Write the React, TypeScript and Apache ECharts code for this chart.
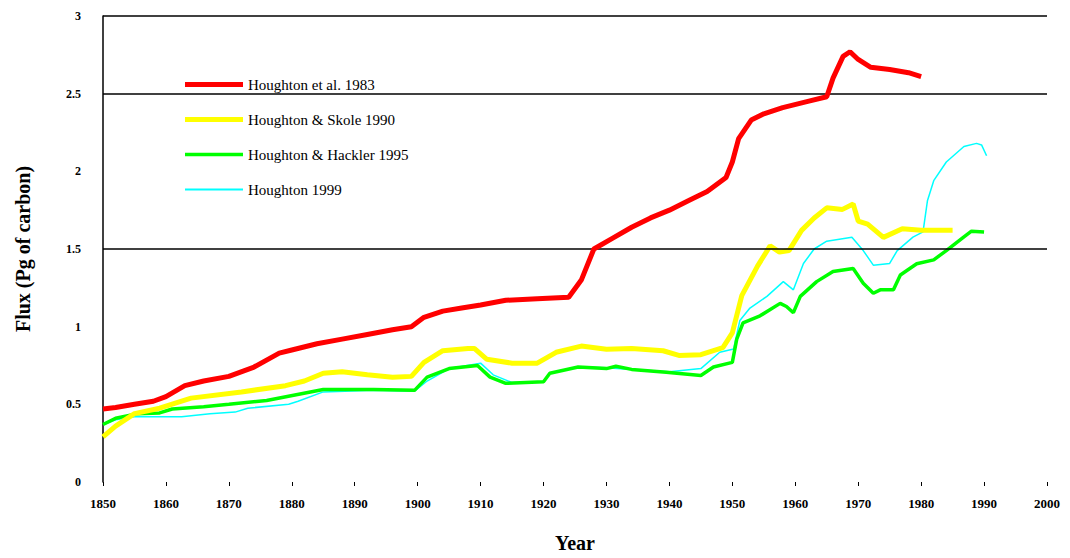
import React, { useEffect, useRef } from "react";
import * as echarts from "echarts";

const redYears = [1850, 1852, 1855, 1858, 1860, 1863, 1866, 1870, 1874, 1878, 1880, 1884, 1888, 1892, 1896, 1899, 1901, 1904, 1907, 1910, 1914, 1919, 1924, 1926, 1928, 1931, 1934, 1937, 1940, 1943, 1946, 1949, 1950, 1951, 1953, 1955, 1958, 1962, 1965, 1966, 1967.6, 1968.7, 1970, 1972, 1975, 1978, 1980];
const redValues = [0.47, 0.48, 0.5, 0.52, 0.55, 0.62, 0.65, 0.68, 0.74, 0.83, 0.85, 0.89, 0.92, 0.95, 0.98, 1.0, 1.06, 1.1, 1.12, 1.14, 1.17, 1.18, 1.19, 1.3, 1.5, 1.57, 1.64, 1.7, 1.75, 1.81, 1.87, 1.96, 2.06, 2.21, 2.33, 2.37, 2.41, 2.45, 2.48, 2.6, 2.74, 2.77, 2.72, 2.67, 2.655, 2.635, 2.61];

const yellowYears = [1850, 1852, 1855, 1859, 1864, 1872, 1879, 1882, 1885, 1888, 1892, 1896, 1899, 1901, 1904, 1908, 1909, 1911, 1915, 1919, 1922, 1926, 1930, 1934, 1939, 1941.5, 1945, 1948.5, 1950, 1951.5, 1954, 1956, 1957.5, 1959, 1961, 1963, 1965, 1967.5, 1969.2, 1970, 1971.5, 1974, 1977, 1980, 1985];
const yellowValues = [0.29, 0.36, 0.44, 0.475, 0.54, 0.58, 0.62, 0.65, 0.7, 0.71, 0.69, 0.675, 0.68, 0.77, 0.845, 0.86, 0.86, 0.79, 0.765, 0.765, 0.835, 0.875, 0.855, 0.86, 0.845, 0.815, 0.82, 0.865, 0.96, 1.2, 1.39, 1.52, 1.48, 1.49, 1.62, 1.7, 1.765, 1.755, 1.79, 1.68, 1.66, 1.575, 1.63, 1.62, 1.62];

const greenYears = [1850, 1852, 1855.5, 1859, 1861, 1866, 1870, 1876, 1880.5, 1885, 1893, 1899.5, 1901.5, 1905, 1909.5, 1911.5, 1914, 1920, 1921, 1925.5, 1930, 1931.5, 1934, 1939.5, 1945, 1947, 1950, 1950.7, 1951.7, 1954.4, 1957.6, 1958.6, 1959.7, 1960.8, 1963.4, 1966, 1969.2, 1970.8, 1972.4, 1973.5, 1975.6, 1976.7, 1979.3, 1982, 1984, 1986.7, 1988, 1990];
const greenValues = [0.37, 0.41, 0.44, 0.445, 0.47, 0.485, 0.5, 0.525, 0.56, 0.595, 0.595, 0.59, 0.675, 0.73, 0.75, 0.675, 0.635, 0.645, 0.7, 0.74, 0.73, 0.745, 0.725, 0.707, 0.686, 0.74, 0.77, 0.92, 1.025, 1.07, 1.15, 1.13, 1.09, 1.195, 1.29, 1.355, 1.375, 1.28, 1.215, 1.237, 1.237, 1.333, 1.405, 1.43, 1.49, 1.575, 1.615, 1.61];

const cyanYears = [1850, 1852, 1855, 1862.5, 1867, 1871, 1873, 1879.5, 1881, 1885, 1893, 1899.5, 1901.5, 1905, 1910, 1912, 1915, 1920, 1921, 1925.5, 1930, 1934, 1940, 1945, 1948, 1950.2, 1951.2, 1952.8, 1955.5, 1958.1, 1959.7, 1961.3, 1963, 1965, 1969, 1970.8, 1972.4, 1975, 1976.2, 1978.7, 1980.3, 1981, 1982, 1984, 1986.8, 1988.8, 1989.6, 1990.4];
const cyanValues = [0.37, 0.4, 0.42, 0.42, 0.44, 0.45, 0.475, 0.5, 0.52, 0.58, 0.59, 0.585, 0.65, 0.73, 0.765, 0.69, 0.64, 0.645, 0.7, 0.74, 0.735, 0.725, 0.71, 0.73, 0.835, 0.856, 1.04, 1.12, 1.195, 1.29, 1.237, 1.407, 1.5, 1.55, 1.575, 1.49, 1.396, 1.407, 1.49, 1.576, 1.61, 1.81, 1.94, 2.06, 2.16, 2.18, 2.17, 2.1];

const seriesNames = ["Houghton et al. 1983", "Houghton & Skole 1990", "Houghton & Hackler 1995", "Houghton 1999"];
const gridValues = [3, 2.5, 1.5];

const zip = (xs: number[], ys: number[]) => xs.map((x, i) => [x, ys[i]]);

const FONT = "'Liberation Serif', 'DejaVu Serif', serif";

export default function App() {
  const ref = useRef<HTMLDivElement>(null);
  useEffect(() => {
    if (!ref.current) return;
    const chart = echarts.init(ref.current, undefined, { renderer: "svg" });
    const lineSeries = (name: string, data: number[][], color: string, width: number, z: number, extra: any = {}) => ({
      name,
      type: "line",
      data,
      showSymbol: false,
      symbol: "none",
      z,
      lineStyle: { color, width },
      itemStyle: { color },
      ...extra,
    });
    const legendIcon = (h: number) => `path://M0,0H58V${h}H0Z`;
    chart.setOption({
      animation: false,
      backgroundColor: "#fff",
      grid: { left: 103, right: 23, top: 16, bottom: 70, containLabel: false },
      legend: {
        orient: "vertical",
        left: 140,
        top: 67,
        padding: [10, 105, 10, 45],
        backgroundColor: "#fff",
        itemGap: 20,
        itemWidth: 58,
        itemHeight: 14,
        symbolKeepAspect: true,
        data: [
          { name: seriesNames[0], icon: legendIcon(5) },
          { name: seriesNames[1], icon: legendIcon(5) },
          { name: seriesNames[2], icon: legendIcon(3.5) },
          { name: seriesNames[3], icon: legendIcon(2) },
        ],
        textStyle: { fontFamily: FONT, fontSize: 15, color: "#000" },
      },
      xAxis: {
        type: "value",
        min: 1850,
        max: 2000,
        interval: 10,
        offset: 9,
        axisLine: { show: false },
        axisTick: { show: true, length: 4, lineStyle: { color: "#000", width: 1 } },
        splitLine: { show: false },
        axisLabel: { fontFamily: FONT, fontWeight: "bold", fontSize: 13, color: "#000", margin: 6, formatter: (v: number) => String(v) },
        name: "Year",
        nameLocation: "middle",
        nameGap: 42,
        nameTextStyle: { fontFamily: FONT, fontWeight: "bold", fontSize: 20, color: "#000" },
      },
      yAxis: {
        type: "value",
        min: 0,
        max: 3,
        interval: 0.5,
        axisLine: { show: true, lineStyle: { color: "#000", width: 1.5 } },
        axisTick: { show: false },
        splitLine: { show: false },
        axisLabel: { fontFamily: FONT, fontWeight: "bold", fontSize: 12, color: "#000", margin: 22 },
        name: "Flux (Pg of carbon)",
        nameLocation: "middle",
        nameRotate: 90,
        nameGap: 70,
        nameTextStyle: { fontFamily: FONT, fontWeight: "bold", fontSize: 20, color: "#000" },
      },
      series: [
        lineSeries(seriesNames[3], zip(cyanYears, cyanValues), "#00ffff", 1.5, 2, {
          markLine: {
            silent: true,
            symbol: "none",
            label: { show: false },
            lineStyle: { color: "#000", width: 1.5, type: "solid" },
            data: gridValues.map((v) => ({ yAxis: v })),
          },
        }),
        lineSeries(seriesNames[2], zip(greenYears, greenValues), "#00ff00", 3.5, 3),
        lineSeries(seriesNames[1], zip(yellowYears, yellowValues), "#ffff00", 5, 4),
        lineSeries(seriesNames[0], zip(redYears, redValues), "#ff0000", 5, 5),
      ],
    });
    return () => chart.dispose();
  }, []);
  return <div ref={ref} style={{ position: "fixed", left: 0, top: 0, width: 1070, height: 558, background: "#fff" }} />;
}
